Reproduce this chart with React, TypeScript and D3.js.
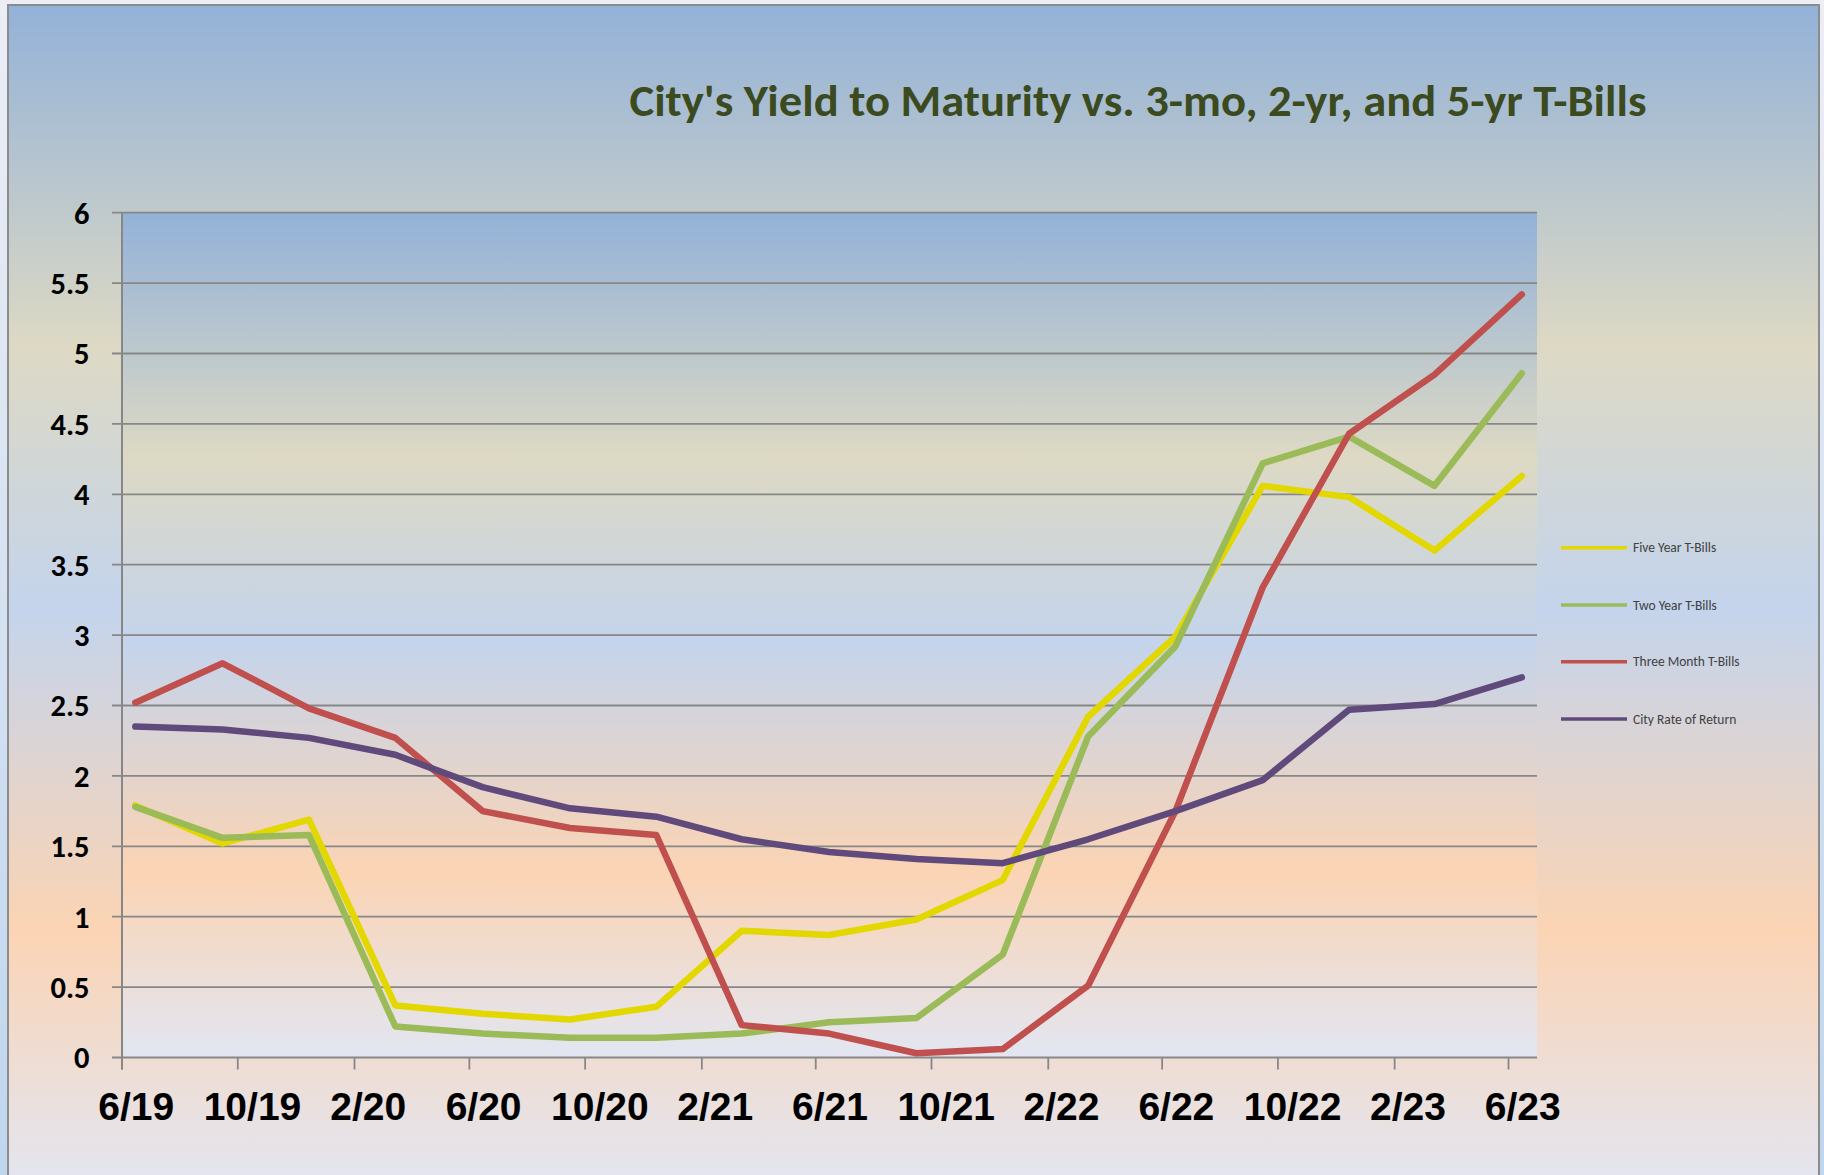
import React, { useEffect, useRef } from 'react'
import * as d3 from 'd3'

// quarterly observations (mid-month)
const obsDates = ['2019-06-15', '2019-09-15', '2019-12-15', '2020-03-15', '2020-06-15', '2020-09-15',
    '2020-12-15', '2021-03-15', '2021-06-15', '2021-09-15', '2021-12-15', '2022-03-15',
    '2022-06-15', '2022-09-15', '2022-12-15', '2023-03-15', '2023-06-15']

const fiveYear = [1.79, 1.52, 1.69, 0.37, 0.31, 0.27, 0.36, 0.90, 0.87, 0.98, 1.26, 2.42, 2.99, 4.06, 3.98, 3.60, 4.13]
const twoYear = [1.78, 1.56, 1.58, 0.22, 0.17, 0.14, 0.14, 0.17, 0.25, 0.28, 0.73, 2.28, 2.92, 4.22, 4.41, 4.06, 4.86]
const threeMonth = [2.52, 2.80, 2.48, 2.27, 1.75, 1.63, 1.58, 0.23, 0.17, 0.03, 0.06, 0.51, 1.75, 3.34, 4.43, 4.85, 5.42]
const cityReturn = [2.35, 2.33, 2.27, 2.15, 1.92, 1.77, 1.71, 1.55, 1.46, 1.41, 1.38, 1.55, 1.75, 1.97, 2.47, 2.51, 2.70]

const seriesNames = ['Five Year T-Bills', 'Two Year T-Bills', 'Three Month T-Bills', 'City Rate of Return']
const seriesColors = ['#e2d800', '#9bbb59', '#c0504d', '#604a7b']

const xTickLabels = ['6/19', '10/19', '2/20', '6/20', '10/20', '2/21', '6/21', '10/21', '2/22', '6/22', '10/22', '2/23', '6/23']
const yTickValues = [0, 0.5, 1, 1.5, 2, 2.5, 3, 3.5, 4, 4.5, 5, 5.5, 6]

const title = "City's Yield to Maturity vs. 3-mo, 2-yr, and 5-yr T-Bills"

const W = 1824
const H = 1175

const App = () => {
    const ref = useRef<HTMLDivElement>(null)

    useEffect(() => {
        const root = d3.select(ref.current)
        root.selectAll('svg').remove()

        const svg = root.append('svg')
            .attr('width', W)
            .attr('height', H)
            .attr('viewBox', `0 0 ${W} ${H}`)
            .style('display', 'block')

        const defs = svg.append('defs')
        const grad = defs.append('linearGradient')
            .attr('id', 'bgGrad')
            .attr('x1', 0).attr('y1', 0).attr('x2', 0).attr('y2', 1)
        const stops: [number, string][] = [[0, '#93b2d8'], [0.29, '#ddd9c4'], [0.51, '#c4d4ec'], [0.78, '#fbd4b4'], [1, '#e2e6f2']]
        stops.forEach(([o, c]) => grad.append('stop').attr('offset', o).attr('stop-color', c))

        const pageGrad = defs.append('linearGradient')
            .attr('id', 'pageGrad')
            .attr('x1', 0).attr('y1', 0).attr('x2', 0).attr('y2', 1)
        pageGrad.append('stop').attr('offset', 0).attr('stop-color', '#eceef6')
        pageGrad.append('stop').attr('offset', 1).attr('stop-color', '#bfd6ee')

        svg.append('rect')
            .attr('width', W).attr('height', H)
            .attr('fill', 'url(#pageGrad)')

        // chart frame
        svg.append('rect')
            .attr('x', 8).attr('y', 5)
            .attr('width', 1811).attr('height', 1185)
            .attr('fill', 'url(#bgGrad)')
            .attr('stroke', '#8c8c8c')
            .attr('stroke-width', 2)

        const parse = d3.timeParse('%Y-%m-%d')
        const dates = obsDates.map(d => parse(d) as Date)
        const tickDates = xTickLabels.map(l => {
            const [m, y] = l.split('/').map(Number)
            return new Date(2000 + y, m - 1, 1)
        })

        const x = d3.scaleTime()
            .domain([new Date(2019, 5, 1), new Date(2023, 6, 1)])
            .range([122, 1537])

        const y = d3.scaleLinear()
            .domain([0, 6])
            .range([1057.5, 212.7])

        const [x0, x1] = x.range()
        const [y0, y1] = y.range()

        // plot area
        svg.append('rect')
            .attr('x', x0).attr('y', y1)
            .attr('width', x1 - x0).attr('height', y0 - y1)
            .attr('fill', 'url(#bgGrad)')

        const g = svg.append('g')

        g.selectAll('line.grid')
            .data(yTickValues)
            .join('line')
            .attr('class', 'grid')
            .attr('x1', x0 - 10)
            .attr('x2', x1)
            .attr('y1', d => y(d))
            .attr('y2', d => y(d))
            .attr('stroke', '#878787')
            .attr('stroke-width', 1.8)

        g.selectAll('line.xtick')
            .data(tickDates)
            .join('line')
            .attr('class', 'xtick')
            .attr('x1', d => x(d))
            .attr('x2', d => x(d))
            .attr('y1', y0)
            .attr('y2', y0 + 12)
            .attr('stroke', '#878787')
            .attr('stroke-width', 1.8)

        g.append('line')
            .attr('x1', x0).attr('x2', x0)
            .attr('y1', y1).attr('y2', y0 + 12)
            .attr('stroke', '#878787')
            .attr('stroke-width', 2)

        g.selectAll('text.ylab')
            .data(yTickValues)
            .join('text')
            .attr('class', 'ylab')
            .attr('x', 89.5)
            .attr('y', d => y(d))
            .attr('dy', '0.36em')
            .attr('text-anchor', 'end')
            .attr('font-family', 'Carlito, Calibri, Lato, sans-serif')
            .attr('font-weight', 900)
            .attr('font-size', 30.5)
            .attr('fill', '#000')
            .text(d => String(d))

        g.selectAll('text.xlab')
            .data(tickDates)
            .join('text')
            .attr('class', 'xlab')
            .attr('x', d => x(new Date((+d + +d3.timeMonth.offset(d, 1)) / 2)))
            .attr('y', 1120)
            .attr('text-anchor', 'middle')
            .attr('font-family', "'Liberation Sans', Arial, sans-serif")
            .attr('font-weight', 'bold')
            .attr('font-size', 39)
            .attr('fill', '#000')
            .text((d, i) => xTickLabels[i])

        const allSeries = [fiveYear, twoYear, threeMonth, cityReturn]
        const line = d3.line<number>()
            .x((d, i) => x(dates[i]))
            .y(d => y(d))

        g.selectAll('path.series')
            .data(allSeries)
            .join('path')
            .attr('class', 'series')
            .attr('d', d => line(d))
            .attr('fill', 'none')
            .attr('stroke', (d, i) => seriesColors[i])
            .attr('stroke-width', 6.5)
            .attr('stroke-linejoin', 'round')
            .attr('stroke-linecap', 'round')

        // legend
        const legendY = [547.7, 605, 661.7, 719]
        const legend = svg.append('g')
        seriesNames.forEach((name, i) => {
            legend.append('line')
                .attr('x1', 1561).attr('x2', 1627)
                .attr('y1', legendY[i]).attr('y2', legendY[i])
                .attr('stroke', seriesColors[i])
                .attr('stroke-width', 3.5)
            legend.append('text')
                .attr('x', 1633)
                .attr('y', legendY[i])
                .attr('dy', '0.35em')
                .attr('font-family', 'Carlito, Calibri, Lato, sans-serif')
                .attr('font-size', 13.5)
                .attr('fill', '#404040')
                .text(name)
        })

        svg.append('text')
            .attr('x', 629.5)
            .attr('y', 115.7)
            .attr('textLength', 1017)
            .attr('lengthAdjust', 'spacingAndGlyphs')
            .attr('font-family', 'Carlito, Calibri, Lato, sans-serif')
            .attr('font-weight', 'bold')
            .attr('font-size', 45)
            .attr('fill', '#3c4a1f')
            .text(title)
    }, [])

    return (
        <div ref={ref} style={{ position: 'absolute', left: 0, top: 0, width: W, height: H, overflow: 'hidden' }} />
    )
}

export default App
